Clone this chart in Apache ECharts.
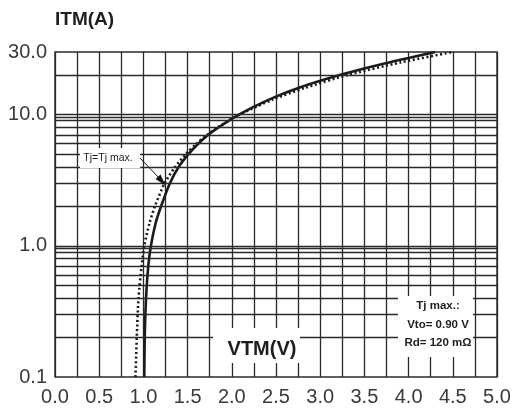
<!DOCTYPE html>
<html>
<head>
<meta charset="utf-8">
<script src="https://cdn.jsdelivr.net/npm/echarts@6/dist/echarts.min.js"></script>
<style>
  html, body { margin: 0; padding: 0; background: #fff; }
  #chart { width: 520px; height: 410px; }
</style>
</head>
<body>
<div id="chart"></div>
<script>
// On-state characteristic: forward current ITM vs forward voltage VTM
const solidCurrent = [0.1, 0.2, 0.4, 0.7, 1, 1.5, 2, 3, 4, 5, 6, 7, 8, 10, 13, 16, 20, 24, 30];
const solidVoltage = [1.01, 1.015, 1.03, 1.055, 1.085, 1.14, 1.20, 1.30, 1.40, 1.51, 1.62, 1.73, 1.85, 2.08, 2.42, 2.76, 3.22, 3.67, 4.30];

// Linear model at Tj max (Vto = 0.90 V, Rd = 120 mOhm)
const modelCurrent = [0.1, 0.2, 0.4, 0.7, 1, 1.5, 2, 3, 4, 5, 6, 7, 8, 10, 13, 16, 20, 25, 30];
const modelVoltage = [0.91, 0.925, 0.945, 0.98, 1.01, 1.07, 1.13, 1.24, 1.36, 1.48, 1.60, 1.72, 1.84, 2.09, 2.46, 2.83, 3.31, 3.91, 4.50];

// Axis ticks and grid levels
const xTickLabels = ['0.0', '0.5', '1.0', '1.5', '2.0', '2.5', '3.0', '3.5', '4.0', '4.5', '5.0'];
const yTickValues = [0.1, 1, 10, 30];
const yTickLabels = ['0.1', '1.0', '10.0', '30.0'];
const currentGridLevels = [0.2, 0.3, 0.4, 0.5, 0.6, 0.7, 0.8, 0.9, 0.95, 1, 2, 3, 4, 5, 6, 7, 8, 9, 9.5, 10, 20];

const FONT = "'Liberation Sans', Arial, sans-serif";
const GRID_COLOR = '#2a2a2a';
const LABEL_COLOR = '#3a3a3a';

const pairs = (currents, volts) => currents.map((c, i) => [volts[i], c]);

const chart = echarts.init(document.getElementById('chart'), null, { renderer: 'canvas' });

chart.setOption({
  animation: false,
  backgroundColor: '#fff',
  title: {
    text: 'ITM(A)',
    left: 55,
    top: 10,
    padding: 0,
    textStyle: { fontFamily: FONT, fontSize: 19, fontWeight: 'bold', color: '#1e1e1e' }
  },
  grid: {
    left: 55, right: 23, top: 52, bottom: 33,
    show: true, borderColor: GRID_COLOR, borderWidth: 1.4, backgroundColor: 'transparent'
  },
  xAxis: {
    type: 'value',
    min: 0, max: 5, interval: 0.25,
    axisLine: { show: false },
    axisTick: { show: false },
    axisLabel: {
      margin: 10,
      fontFamily: FONT, fontSize: 20, color: LABEL_COLOR,
      formatter: v => {
        const k = Math.round(v / 0.5);
        return Math.abs(v - k * 0.5) < 1e-6 ? xTickLabels[k] : '';
      }
    },
    splitLine: { show: true, lineStyle: { color: GRID_COLOR, width: 1.3 } }
  },
  yAxis: {
    type: 'log',
    logBase: 10,
    min: 0.1, max: 30,
    axisLine: { show: false },
    axisTick: { show: false },
    splitLine: { show: false },
    axisLabel: {
      margin: 8,
      fontFamily: FONT, fontSize: 20, color: LABEL_COLOR,
      showMinLabel: true, showMaxLabel: true,
      formatter: v => {
        const i = yTickValues.findIndex(t => Math.abs(t - v) / t < 0.01);
        return i >= 0 ? yTickLabels[i] : '';
      }
    }
  },
  series: [
    {
      name: 'current grid',
      type: 'line',
      data: [],
      silent: true,
      z: 1,
      markLine: {
        silent: true,
        symbol: ['none', 'none'],
        label: { show: false },
        lineStyle: { color: GRID_COLOR, width: 1.3, type: 'solid' },
        data: currentGridLevels.map(v => ({ yAxis: v }))
      }
    },
    {
      name: 'Tj max model',
      type: 'line',
      data: pairs(modelCurrent, modelVoltage),
      showSymbol: false,
      smooth: 0.25,
      z: 3,
      lineStyle: { color: '#1a1a1a', width: 2.6, type: [2, 2.6], cap: 'butt' }
    },
    {
      name: 'Tj = Tj max',
      type: 'line',
      data: pairs(solidCurrent, solidVoltage),
      showSymbol: false,
      smooth: 0.25,
      z: 4,
      lineStyle: { color: '#1a1a1a', width: 2.6 }
    }
  ],
  graphic: [
    // axis name for the voltage axis
    { type: 'rect', z: 50, shape: { x: 213, y: 328, width: 87, height: 35 }, style: { fill: '#fff' } },
    {
      type: 'text', z: 51, x: 262, y: 349,
      style: { text: 'VTM(V)', font: "bold 20px " + FONT, fill: '#1e1e1e', align: 'center', verticalAlign: 'middle' }
    },
    // model parameters box
    { type: 'rect', z: 50, shape: { x: 398, y: 296, width: 75, height: 61 }, style: { fill: '#fff' } },
    {
      type: 'text', z: 51, x: 438, y: 306,
      style: { text: 'Tj max.:', font: "bold 11.5px " + FONT, fill: '#1e1e1e', align: 'center', verticalAlign: 'middle' }
    },
    {
      type: 'text', z: 51, x: 438, y: 325,
      style: { text: 'Vto= 0.90 V', font: "bold 11.5px " + FONT, fill: '#1e1e1e', align: 'center', verticalAlign: 'middle' }
    },
    {
      type: 'text', z: 51, x: 438, y: 343,
      style: { text: 'Rd= 120 mΩ', font: "bold 11.5px " + FONT, fill: '#1e1e1e', align: 'center', verticalAlign: 'middle' }
    },
    // curve label with leader arrow
    { type: 'rect', z: 50, shape: { x: 80, y: 148, width: 60, height: 20 }, style: { fill: '#fff' } },
    {
      type: 'text', z: 51, x: 108, y: 158,
      style: { text: 'Tj=Tj max.', font: "10.5px " + FONT, fill: '#1e1e1e', align: 'center', verticalAlign: 'middle' }
    },
    {
      type: 'line', z: 52,
      shape: { x1: 140, y1: 158, x2: 161, y2: 180 },
      style: { stroke: '#1a1a1a', lineWidth: 1 }
    },
    {
      type: 'polygon', z: 52,
      shape: { points: [[165.5, 185.5], [155.5, 179], [160.5, 174.5]] },
      style: { fill: '#111' }
    }
  ]
});
</script>
</body>
</html>
